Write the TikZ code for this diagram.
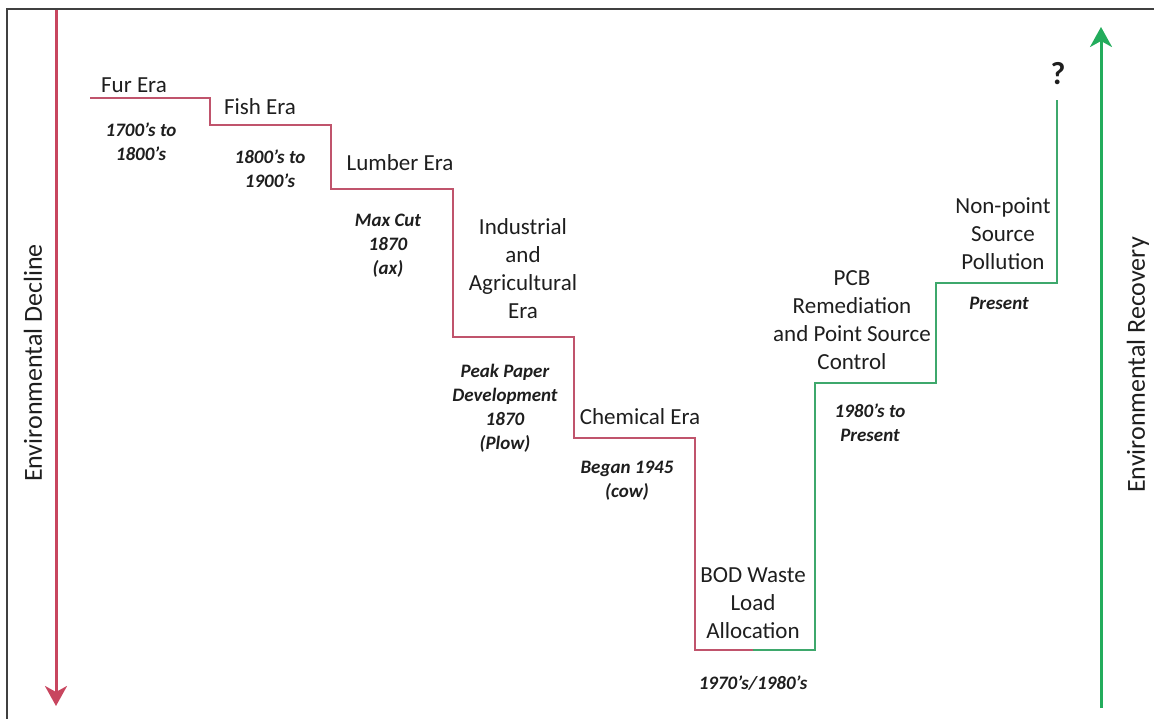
\documentclass[tikz,border=0pt]{standalone}
\usepackage{fontspec}
\setmainfont{Carlito}
\usetikzlibrary{positioning,arrows.meta}
\definecolor{declred}{RGB}{200,70,95}
\definecolor{recgreen}{RGB}{35,172,92}
\definecolor{stepred}{RGB}{192,84,108}
\definecolor{stepgreen}{RGB}{62,168,108}
\definecolor{inkgray}{RGB}{30,30,30}
\tikzset{
    x=1pt,
    y=-1pt,
    era/.style = {
        align=center,
        inner sep=0pt,
        text=inkgray,
        font=\fontsize{23}{28}\selectfont
    },
    when/.style = {
        align=center,
        inner sep=0pt,
        text=inkgray,
        font=\fontsize{19}{24}\selectfont\bfseries\itshape
    },
    axislabel/.style = {
        inner sep=0pt,
        rotate=90,
        text=inkgray,
        font=\fontsize{26}{30}\selectfont
    },
    downstep/.style = {
        draw=stepred,
        line width=2pt
    },
    upstep/.style = {
        draw=stepgreen,
        line width=2pt
    },
    >={Stealth[length=20pt,width=22pt,inset=6pt]},
}

\begin{document}
\begin{tikzpicture}
        \useasboundingbox (0,0) rectangle (1154,719);
        \coordinate (framelow) at (7,719);
        \coordinate (framehigh) at (1154,9);
        \path[draw, line width=1.5pt, draw=black!75] (framelow) |- (framehigh);

        % stair corners
        \coordinate (s0) at (90,98);
        \coordinate (s1) at (210,125);
        \coordinate (s2) at (331,189);
        \coordinate (s3) at (453,337);
        \coordinate (s4) at (574,438);
        \coordinate (s5) at (695,650);
        \coordinate (low) at (753,650);
        \coordinate (s6) at (815,650);
        \coordinate (s7) at (936,383);
        \coordinate (s8) at (1057,283);
        \coordinate (s9) at (1057,100);

        \path[downstep] (s0) -| (s1) -| (s2) -| (s3) -| (s4) -| (s5) -- (low);
        \path[upstep] (low) -- (s6) |- (s7) |- (s8) -- (s9);

        % axes
        \coordinate (declstart) at (56,10);
        \coordinate (declend) at (56,706);
        \coordinate (recstart) at (1101,708);
        \coordinate (recend) at (1101,27);
        \path[draw, declred, line width=3pt, ->] (declstart) -- (declend);
        \path[draw, recgreen, line width=3pt, ->] (recstart) -- (recend);
        \node[axislabel] (decline) at (33,363) {Environmental Decline};
        \node[axislabel] (recovery) at (1138,365) {Environmental Recovery};

        % eras
        \node[era] (fur) at (134,85) {Fur Era};
        \node[when] (furdate) at (141,142) {1700’s to\\1800’s};
        \node[era] (fish) at (260,107) {Fish Era};
        \node[when] (fishdate) at (270,169) {1800’s to\\1900’s};
        \node[era] (lumber) at (400,163) {Lumber Era};
        \node[when] (lumberdate) at (388,246) {Max Cut\\1870\\(ax)};
        \node[era] (industrial) at (523,269) {Industrial\\and\\Agricultural\\Era};
        \node[when] (industrialdate) at (505,408) {Peak Paper\\Development\\1870\\(Plow)};
        \node[era] (chemical) at (640,417) {Chemical Era};
        \node[when] (chemicaldate) at (627,481) {Began 1945\\(cow)};
        \node[era] (bod) at (753,603) {BOD Waste\\Load\\Allocation};
        \node[when] (boddate) at (753,683) {1970’s/1980’s};
        \node[era] (pcb) at (852,320) {PCB\\Remediation\\and Point Source\\Control};
        \node[when] (pcbdate) at (870,423) {1980’s to\\Present};
        \node[era] (nonpoint) at (1003,234) {Non-point\\Source\\Pollution};
        \node[when] (nonpointdate) at (999,303) {Present};
        \node[era, font=\fontsize{32}{34}\selectfont\bfseries] (future) at (1058,74) {?};
    \end{tikzpicture}
\end{document}
